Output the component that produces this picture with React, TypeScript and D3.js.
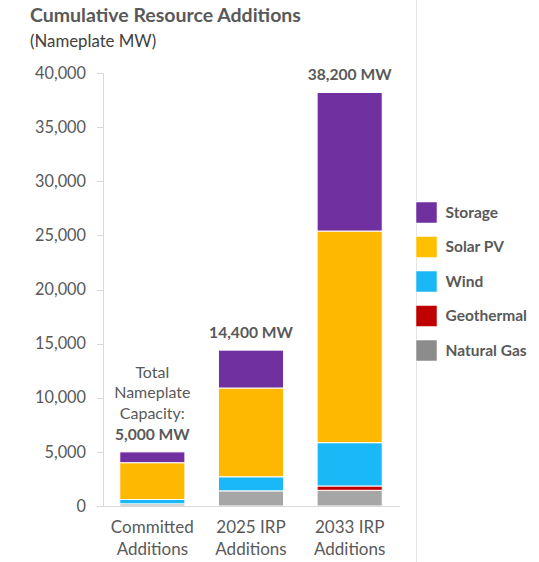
import React from "react";
import * as d3 from "d3";

const categories = ["Committed Additions", "2025 IRP Additions", "2033 IRP Additions"];
const categoryLines = [["Committed", "Additions"], ["2025 IRP", "Additions"], ["2033 IRP", "Additions"]];
const seriesNames = ["Natural Gas", "Geothermal", "Wind", "Solar PV", "Storage"];
const naturalGas = [200, 1400, 1450];
const geothermal = [0, 0, 400];
const wind = [400, 1300, 4000];
const solarPV = [3400, 8200, 19550];
const storage = [1000, 3500, 12800];
const yTicks = [0, 5000, 10000, 15000, 20000, 25000, 30000, 35000, 40000];
const seriesColors = ["#A6A6A6", "#C00000", "#1AB8F6", "#FFB800", "#7030A0"];
const legendColors = ["#8C8C8C", "#C00000", "#1AB8F6", "#FFC000", "#7030A0"];
const legendOrder = ["Storage", "Solar PV", "Wind", "Geothermal", "Natural Gas"];
const firstNote = ["Total", "Nameplate", "Capacity:"];

const FONT = "Lato, 'Open Sans', sans-serif";

export default function App() {
  const seriesValues = [naturalGas, geothermal, wind, solarPV, storage];
  const rows = categories.map((c, i) => {
    const r: any = { cat: c };
    seriesNames.forEach((s, k) => (r[s] = seriesValues[k][i]));
    return r;
  });
  const stacked = d3.stack().keys(seriesNames)(rows);
  const totals = categories.map((_, i) => d3.sum(seriesValues, (v) => v[i]));

  const y = d3.scaleLinear().domain([0, 40000]).range([506, 73]);
  const x = d3.scaleBand().domain(categories).range([103, 399]).paddingInner(0.34).paddingOuter(0.17);
  const fmt = d3.format(",");
  const textCol = "#595959";

  return (
    <svg width={539} height={562} style={{ position: "absolute", left: 0, top: 0, background: "#fff" }} fontFamily={FONT}>
      <rect x={0} y={0} width={539} height={562} fill="#fff" />
      <text x={30} y={22} fontSize={19.5} fontWeight={700} fill="#595959">Cumulative Resource Additions</text>
      <text x={30} y={47} fontSize={16.8} fill="#404040">(Nameplate MW)</text>

      <line x1={416.5} x2={416.5} y1={0} y2={562} stroke="#E4E4E4" strokeWidth={1} />

      {/* y axis */}
      <line x1={103.5} x2={103.5} y1={y(40000)} y2={y(0)} stroke="#D9D9D9" strokeWidth={1} />
      {yTicks.map((t) => (
        <g key={t}>
          <line x1={97} x2={103.5} y1={Math.round(y(t)) + 0.5} y2={Math.round(y(t)) + 0.5} stroke="#D9D9D9" />
          <text x={86} y={y(t)} dy="0.35em" textAnchor="end" fontSize={16.3} fill={textCol}>{fmt(t)}</text>
        </g>
      ))}

      {/* bars */}
      {stacked.map((layer, k) => (
        <g key={layer.key} fill={seriesColors[k]}>
          {layer.map((d, i) =>
            d[1] - d[0] > 0 ? (
              <rect
                key={i}
                x={x(categories[i])!}
                width={x.bandwidth()}
                y={y(d[1])}
                height={y(d[0]) - y(d[1])}
                stroke="#fff"
                strokeWidth={1}
              />
            ) : null
          )}
        </g>
      ))}

      <line x1={103} x2={400} y1={506.5} y2={506.5} stroke="#D9D9D9" strokeWidth={1} />

      {/* x labels */}
      {categories.map((c, i) => (
        <g key={c}>
          {categoryLines[i].map((ln, j) => (
            <text key={j} x={x(c)! + x.bandwidth() / 2} y={533 + j * 22} textAnchor="middle" fontSize={17} fill={textCol}>{ln}</text>
          ))}
        </g>
      ))}

      {/* total labels */}
      {categories.map((c, i) => (
        <text key={c} x={x(c)! + x.bandwidth() / 2} y={y(totals[i]) - 12} textAnchor="middle" fontSize={15.6} fontWeight={700} fill={textCol}>
          {fmt(totals[i])} MW
        </text>
      ))}
      {firstNote.map((ln, j) => (
        <text key={ln} x={x(categories[0])! + x.bandwidth() / 2} y={y(totals[0]) - 12 - (firstNote.length - j) * 20.7} textAnchor="middle" fontSize={16} fill={textCol}>{ln}</text>
      ))}

      {/* legend */}
      {legendOrder.map((name, j) => {
        const k = seriesNames.indexOf(name);
        return (
          <g key={name} transform={`translate(416, ${202 + j * 34.5})`}>
            <rect x={0} y={0} width={21} height={21} fill={legendColors[k]} stroke="#fff" strokeWidth={0.5} />
            <text x={29.5} y={10.5} dy="0.35em" fontSize={15.5} fontWeight={700} fill={textCol}>{name}</text>
          </g>
        );
      })}
    </svg>
  );
}
